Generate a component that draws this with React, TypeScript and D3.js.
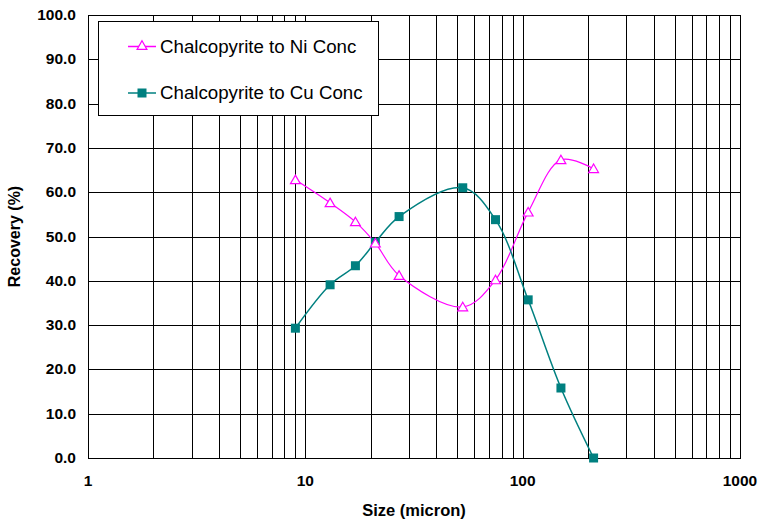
import React from 'react';
import * as d3 from 'd3';

// particle size (micron) and recovery (%)
const sizes = [9, 13, 17, 21, 27, 53, 75, 106, 150, 212];
const niRecovery = [62.8, 57.6, 53.3, 48.5, 41.2, 34.1, 40.2, 55.5, 67.3, 65.3];
const cuRecovery = [29.3, 39.1, 43.4, 48.7, 54.5, 61.0, 53.8, 35.7, 15.8, 0.0];

const seriesNames = ['Chalcopyrite to Ni Conc', 'Chalcopyrite to Cu Conc'];
const xTickLabels = [1, 10, 100, 1000];
const yTickLabels = [0, 10, 20, 30, 40, 50, 60, 70, 80, 90, 100];

const NI_COLOR = '#FF00FF';
const CU_COLOR = '#008080';

const W = 759;
const H = 522;
const margin = { top: 15, right: 19, bottom: 64, left: 88 };

const App = () => {
  const innerW = W - margin.left - margin.right;
  const innerH = H - margin.top - margin.bottom;

  const x = d3.scaleLog().domain([1, 1000]).range([0, innerW]);
  const y = d3.scaleLinear().domain([0, 100]).range([innerH, 0]);

  // minor log grid: 1..9 in each decade
  const gridX: number[] = [];
  for (let dec = 1; dec < 1000; dec *= 10) {
    for (let k = 2; k <= 9; k++) gridX.push(dec * k);
  }
  gridX.push(10, 100);

  const line = d3
    .line<[number, number]>()
    .x((d) => x(d[0]))
    .y((d) => y(d[1]))
    .curve(d3.curveCatmullRom.alpha(0.5));

  const niPts = sizes.map((s, i) => [s, niRecovery[i]] as [number, number]);
  const cuPts = sizes.map((s, i) => [s, cuRecovery[i]] as [number, number]);

  const tri = d3.symbol().type(d3.symbolTriangle).size(42)();
  const font = 'Arial, "Liberation Sans", sans-serif';

  return (
    <svg
      width={W}
      height={H}
      style={{ position: 'absolute', left: 0, top: 0, background: '#fff' }}
      fontFamily={font}
    >
      <g transform={`translate(${margin.left},${margin.top})`}>
        {/* grid */}
        {yTickLabels.map((t) => (
          <line key={'gy' + t} x1={0} x2={innerW} y1={Math.round(y(t)) + 0.5} y2={Math.round(y(t)) + 0.5} stroke="#000" strokeWidth={1} />
        ))}
        {gridX.map((t) => (
          <line key={'gx' + t} x1={Math.round(x(t)) + 0.5} x2={Math.round(x(t)) + 0.5} y1={0} y2={innerH} stroke="#000" strokeWidth={1} />
        ))}
        <rect x={0.5} y={0.5} width={innerW} height={innerH} fill="none" stroke="#000" strokeWidth={1} />

        {/* y tick labels */}
        {yTickLabels.map((t) => (
          <text key={'ty' + t} x={-12} y={y(t) + 5} textAnchor="end" fontSize={15.5} fontWeight="bold" fill="#000">
            {t.toFixed(1)}
          </text>
        ))}
        {/* x tick labels */}
        {xTickLabels.map((t) => (
          <text key={'tx' + t} x={x(t)} y={innerH + 28} textAnchor="middle" fontSize={15.5} fontWeight="bold" fill="#000">
            {t}
          </text>
        ))}

        {/* series */}
        <path d={line(niPts) || ''} fill="none" stroke={NI_COLOR} strokeWidth={1.2} />
        <path d={line(cuPts) || ''} fill="none" stroke={CU_COLOR} strokeWidth={1.5} />
        {cuPts.map((d, i) => (
          <rect key={'cu' + i} x={x(d[0]) - 4.5} y={y(d[1]) - 4.5} width={9} height={9} fill={CU_COLOR} />
        ))}
        {niPts.map((d, i) => (
          <path key={'ni' + i} d={tri || ''} transform={`translate(${x(d[0])},${y(d[1]) + 1})`} fill="#fff" stroke={NI_COLOR} strokeWidth={1.2} />
        ))}

        {/* axis titles */}
        <text x={innerW / 2} y={innerH + 58} textAnchor="middle" fontSize={16.5} fontWeight="bold" fill="#000">
          Size (micron)
        </text>
        <text
          transform={`translate(${-68},${innerH / 2}) rotate(-90)`}
          textAnchor="middle"
          fontSize={16}
          fontWeight="bold"
          fill="#000"
        >
          Recovery (%)
        </text>
      </g>

      {/* legend */}
      <g>
        <rect x={98.5} y={21.5} width={280} height={94} fill="#fff" stroke="#000" strokeWidth={1} />
        {seriesNames.map((name, i) => {
          const ly = i === 0 ? 46.5 : 93;
          const color = i === 0 ? NI_COLOR : CU_COLOR;
          return (
            <g key={name}>
              <line x1={128} x2={156} y1={ly} y2={ly} stroke={color} strokeWidth={1.5} />
              {i === 0 ? (
                <path d={tri || ''} transform={`translate(142,${ly})`} fill="#fff" stroke={color} strokeWidth={1.2} />
              ) : (
                <rect x={137.5} y={ly - 4.5} width={9} height={9} fill={color} />
              )}
              <text x={160} y={ly + 6} fontSize={18.7} fill="#000">
                {name}
              </text>
            </g>
          );
        })}
      </g>
    </svg>
  );
};

export default App;
